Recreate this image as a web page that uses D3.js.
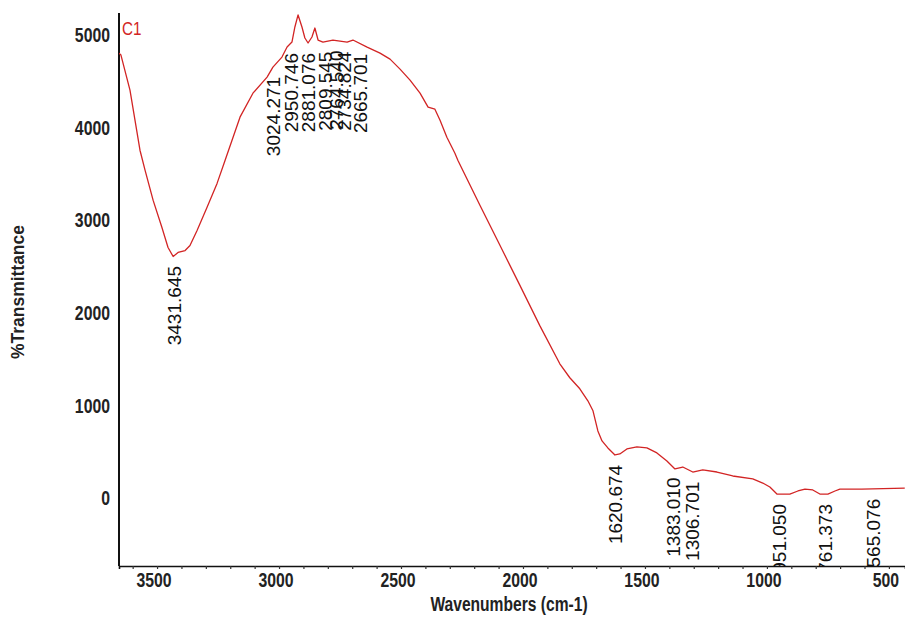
<!DOCTYPE html>
<html>
<head>
<meta charset="utf-8">
<script src="https://cdn.jsdelivr.net/npm/d3@7/dist/d3.min.js"></script>
<style>
  body { margin: 0; background: #fff; }
  text { font-family: "Liberation Sans", Arial, sans-serif; }
</style>
</head>
<body>
<svg id="chart" width="905" height="626"></svg>
<script>
// spectrum (wavenumber cm-1, %T)
const wavenumbers = [3656, 3648, 3611, 3570, 3549, 3516, 3480, 3455, 3434, 3414, 3385, 3365, 3336, 3295, 3254, 3221,
  3160, 3107, 3049, 3025, 2988, 2967, 2947, 2935, 2922, 2906, 2894, 2881, 2865, 2853, 2840, 2820, 2779, 2721, 2697,
  2639, 2586, 2545, 2504, 2463, 2422, 2389, 2361, 2340, 2312, 2279, 2267, 2176, 2094, 2012, 1931, 1849, 1808, 1767,
  1734, 1713, 1693, 1676, 1652, 1623, 1603, 1574, 1533, 1492, 1451, 1410, 1377, 1345, 1304, 1263, 1205, 1140, 1058,
  1017, 988, 959, 906, 873, 844, 812, 783, 750, 721, 701, 611, 435];
const transmittance = [4805, 4784, 4405, 3756, 3539, 3214, 2922, 2706, 2608, 2652, 2673, 2727, 2890, 3139, 3398, 3647,
  4113, 4372, 4546, 4654, 4762, 4870, 4924, 5087, 5217, 5087, 4968, 4914, 4979, 5076, 4946, 4924, 4946, 4924, 4946,
  4870, 4805, 4740, 4632, 4513, 4372, 4221, 4199, 4080, 3896, 3723, 3647, 3160, 2727, 2294, 1862, 1450, 1299, 1180,
  1050, 942, 725, 617, 541, 465, 476, 530, 552, 541, 487, 400, 314, 335, 281, 303, 281, 238, 206,
  162, 119, 43, 43, 76, 97, 87, 43, 43, 76, 97, 97, 108];

const peakLabels = ['3431.645', '3024.271', '2950.746', '2881.076', '2809.545', '2764.540', '2734.824', '2665.701',
  '1620.674', '1383.010', '1306.701', '951.050', '761.373', '565.076'];

const xTickValues = [3500, 3000, 2500, 2000, 1500, 1000, 500];
const xMinorTicks = d3.range(3600, 400, -100);
const yTickValues = [0, 1000, 2000, 3000, 4000, 5000];

const seriesName = 'C1';
const xTitle = 'Wavenumbers (cm-1)';
const yTitle = '%Transmittance';

const red = '#d22424';
const margin = { top: 13, right: 0, bottom: 60, left: 119 };
const width = 905, height = 626;

const svg = d3.select('#chart');

const x = d3.scaleLinear().domain([3656, 434]).range([margin.left, width - margin.right]);
const y = d3.scaleLinear().domain([-734, 5238]).range([height - margin.bottom, margin.top]);

// squeeze text horizontally to mimic the condensed font
function condense(sel, factor) {
  sel.each(function () {
    const len = this.getComputedTextLength();
    d3.select(this).attr('textLength', len * factor).attr('lengthAdjust', 'spacingAndGlyphs');
  });
}

svg.append('defs').append('clipPath').attr('id', 'plot-clip')
  .append('rect')
  .attr('x', margin.left).attr('y', margin.top)
  .attr('width', width - margin.right - margin.left)
  .attr('height', height - margin.bottom - margin.top);

// x axis
const xAxis = svg.append('g')
  .attr('transform', `translate(0, ${height - margin.bottom})`);
xAxis.call(d3.axisBottom(x).tickValues(xMinorTicks).tickSize(3).tickFormat(''));
xAxis.select('.domain').attr('stroke', '#111').attr('stroke-width', 1.6);
xAxis.selectAll('.tick line').attr('stroke', '#333').attr('stroke-width', 1.2);

xAxis.selectAll('.major-label')
  .data(xTickValues)
  .enter()
  .append('text')
  .attr('class', 'major-label')
  .attr('x', d => x(d) - 3)
  .attr('y', 21)
  .attr('text-anchor', 'middle')
  .style('font-size', '20px')
  .style('font-weight', 'bold')
  .attr('fill', '#222')
  .text(d => d)
  .call(condense, 0.79);

// y axis (no tick marks)
svg.append('line')
  .attr('x1', margin.left).attr('x2', margin.left)
  .attr('y1', margin.top).attr('y2', height - margin.bottom)
  .attr('stroke', '#111').attr('stroke-width', 2);

svg.append('g').selectAll('text')
  .data(yTickValues)
  .enter()
  .append('text')
  .attr('x', 110)
  .attr('y', d => y(d))
  .attr('dy', '0.36em')
  .attr('text-anchor', 'end')
  .style('font-size', '20px')
  .style('font-weight', 'bold')
  .attr('fill', '#222')
  .text(d => d)
  .call(condense, 0.79);

// titles
svg.append('text')
  .attr('x', 509)
  .attr('y', 611)
  .attr('text-anchor', 'middle')
  .style('font-size', '20px')
  .style('font-weight', 'bold')
  .attr('fill', '#222')
  .text(xTitle)
  .call(condense, 0.78);

svg.append('text')
  .attr('transform', 'translate(24, 292) rotate(-90)')
  .attr('text-anchor', 'middle')
  .style('font-size', '18px')
  .style('font-weight', 'bold')
  .attr('fill', '#222')
  .text(yTitle)
  .call(condense, 0.97);

svg.append('text')
  .attr('x', 122)
  .attr('y', 35)
  .style('font-size', '19px')
  .attr('fill', red)
  .text(seriesName)
  .call(condense, 0.8);

// spectrum
const data = wavenumbers.map((w, i) => ({ w, t: transmittance[i] }));
const plot = svg.append('g').attr('clip-path', 'url(#plot-clip)');

plot.append('path')
  .datum(data)
  .attr('fill', 'none')
  .attr('stroke', red)
  .attr('stroke-width', 1.3)
  .attr('stroke-linejoin', 'round')
  .attr('d', d3.line().x(d => x(d.w)).y(d => y(d.t)));

// peak labels hang just below the trace
const asc = data.slice().sort((a, b) => a.w - b.w);
const bisect = d3.bisector(d => d.w).left;
function valueAt(w) {
  const i = Math.max(1, Math.min(asc.length - 1, bisect(asc, w)));
  const a = asc[i - 1], b = asc[i];
  return a.t + (b.t - a.t) * (w - a.w) / (b.w - a.w);
}

plot.selectAll('.peak')
  .data(peakLabels)
  .enter()
  .append('text')
  .attr('class', 'peak')
  .attr('transform', d => `translate(${x(+d)}, ${y(valueAt(+d)) + 10}) rotate(-90)`)
  .attr('dy', '0.36em')
  .attr('text-anchor', 'end')
  .style('font-size', '19px')
  .attr('fill', '#111')
  .text(d => d);
</script>
</body>
</html>
